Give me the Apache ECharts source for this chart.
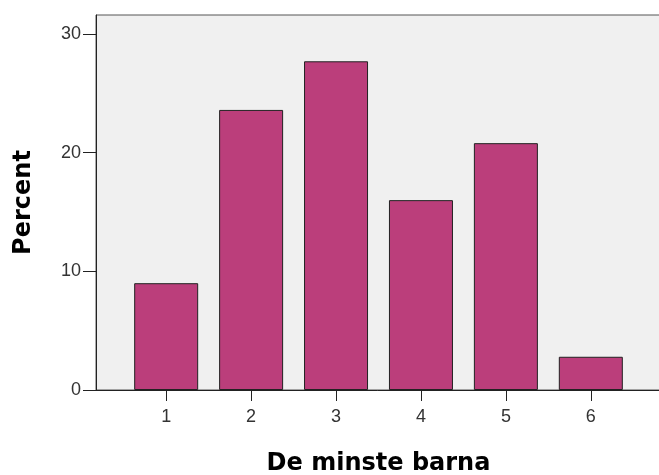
<!DOCTYPE html>
<html><head><meta charset="utf-8">
<script src="https://cdn.jsdelivr.net/npm/echarts@6/dist/echarts.min.js"></script>
<style>html,body{margin:0;padding:0;background:#fff}#c{width:659px;height:475px}</style>
</head><body><div id="c"></div>
<script>
const categories = [1, 2, 3, 4, 5, 6];
const percentValues = [9.0, 23.6, 27.7, 16.0, 20.8, 2.8];
const yTicks = [0, 10, 20, 30];
const xName = 'De minste barna';
const yName = 'Percent';

const chart = echarts.init(document.getElementById('c'), null, {renderer: 'canvas'});
const half = 70 / 84.7;
chart.setOption({
  animation: false,
  grid: {left: 96, top: 15, right: -2, bottom: 85, outerBoundsMode: 'none', containLabel: false,
         show: true, backgroundColor: '#f0f0f0', borderColor: '#555', borderWidth: 1},
  xAxis: {
    type: 'value', min: categories[0] - half, max: categories[categories.length - 1] + half,
    name: xName, nameLocation: 'middle', nameGap: 62,
    nameTextStyle: {fontFamily: 'DejaVu Sans', fontWeight: 'bold', fontSize: 24, color: '#000'},
    axisLine: {show: true, onZero: false, lineStyle: {color: '#222', width: 1}},
    axisTick: {show: true, length: 11, customValues: categories, lineStyle: {color: '#222'}},
    axisLabel: {customValues: categories, fontFamily: 'Liberation Sans', fontSize: 18, color: '#333', margin: 18},
    splitLine: {show: false}
  },
  yAxis: {
    type: 'value', min: 0, max: 31.6,
    name: yName, nameLocation: 'middle', nameGap: 60, nameRotate: 90,
    nameTextStyle: {fontFamily: 'DejaVu Sans', fontWeight: 'bold', fontSize: 24, color: '#000'},
    axisLine: {show: true, lineStyle: {color: '#222', width: 1}},
    axisTick: {show: true, length: 13, customValues: yTicks, lineStyle: {color: '#222'}},
    axisLabel: {customValues: yTicks, fontFamily: 'Liberation Sans', fontSize: 18, color: '#333', margin: 15},
    splitLine: {show: false}
  },
  series: [{
    type: 'bar',
    data: categories.map((c, i) => [c, percentValues[i]]),
    barWidth: 64,
    itemStyle: {color: '#bb3e7b', borderColor: '#222', borderWidth: 1}
  }]
});
</script></body></html>
